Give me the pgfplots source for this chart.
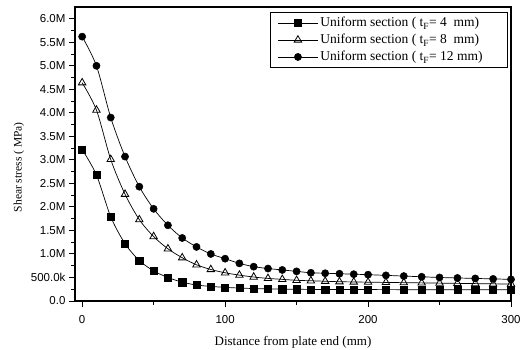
\documentclass[border=0pt]{standalone}
\usepackage{fontspec}
\setmainfont{Liberation Serif}
\setsansfont{Liberation Sans}
\usepackage{pgfplots}
\pgfplotsset{compat=1.18}
\begin{document}
\begin{tikzpicture}[x=1pt,y=1pt]
\useasboundingbox (-75,-48) rectangle (446,301);
\begin{axis}[
  at={(0,0)}, anchor=south west,
  scale only axis, width=436pt, height=294pt,
  xmin=-5, xmax=300, ymin=0, ymax=6.25,
  axis line style={line width=1.1pt},
  xtick={0,100,200,300}, xticklabels={0,100,200,300},
  ytick={0,0.5,...,6.0},
  yticklabels={0.0,500.0k,1.0M,1.5M,2.0M,2.5M,3.0M,3.5M,4.0M,4.5M,5.0M,5.5M,6.0M},
  minor x tick num=1, minor y tick num=1,
  tick align=outside, xtick pos=bottom, ytick pos=left,
  major tick length=6pt, minor tick length=3.5pt,
  every tick/.style={black, line width=1pt},
  ticklabel style={font=\sffamily\fontsize{11.5}{13}\selectfont},
  xticklabel style={yshift=-5pt},
  xlabel={Distance from plate end (mm)},
  ylabel={Shear stress ( MPa)},
  xlabel style={font=\fontsize{13}{15}\selectfont, yshift=-6pt},
  ylabel style={font=\fontsize{11.5}{13}\selectfont, at={(ticklabel cs:0.455)}},
  legend style={at={(0.993,0.983)}, anchor=north east, draw=black, line width=0.9pt,
    font=\fontsize{13.5}{16}\selectfont, row sep=2pt, inner xsep=7pt, inner ysep=3pt},
  legend cell align=left,
  legend image code/.code={%
    \draw[mark repeat=2,mark phase=2,#1] plot coordinates {(0pt,0pt)(20pt,0pt)(40pt,0pt)};},
  every axis plot/.append style={black, line width=0.7pt, smooth},
]
\addplot[mark=square*, mark size=3.6pt, mark options={solid, line width=0.5pt}] coordinates {
(0,3.22)(10,2.68)(20,1.79)(30,1.22)(40,0.86)(50,0.64)(60,0.50)(70,0.40)(80,0.34)(90,0.31)
(100,0.29)(110,0.275)(120,0.265)(130,0.257)(140,0.252)(150,0.249)(160,0.247)(170,0.246)(180,0.245)(190,0.244)
(200,0.243)(212.5,0.242)(225,0.241)(237.5,0.240)(250,0.240)(262.5,0.239)(275,0.239)(287.5,0.238)(300,0.238)};
\addlegendentry{Uniform section ( t\textsubscript{F}= 4\ \ mm)}
\addplot[mark=triangle, mark size=4.3pt, mark options={solid, fill=white, line width=0.8pt}] coordinates {
(0,4.64)(10,4.06)(20,3.01)(30,2.27)(40,1.73)(50,1.37)(60,1.11)(70,0.92)(80,0.77)(90,0.67)
(100,0.60)(110,0.55)(120,0.51)(130,0.48)(140,0.46)(150,0.44)(160,0.43)(170,0.42)(180,0.41)(190,0.405)
(200,0.40)(212.5,0.395)(225,0.39)(237.5,0.385)(250,0.38)(262.5,0.375)(275,0.37)(287.5,0.365)(300,0.36)};
\addlegendentry{Uniform section ( t\textsubscript{F}= 8\ \ mm)}
\addplot[mark=*, mark size=3.6pt, mark options={solid, line width=0.5pt}] coordinates {
(0,5.62)(10,5.00)(20,3.90)(30,3.07)(40,2.43)(50,1.96)(60,1.61)(70,1.34)(80,1.15)(90,1.00)
(100,0.90)(110,0.80)(120,0.73)(130,0.69)(140,0.66)(150,0.63)(160,0.60)(170,0.59)(180,0.58)(190,0.57)
(200,0.56)(212.5,0.545)(225,0.53)(237.5,0.515)(250,0.50)(262.5,0.49)(275,0.48)(287.5,0.47)(300,0.46)};
\addlegendentry{Uniform section ( t\textsubscript{F}= 12 mm)\hspace*{16pt}}
\end{axis}
\end{tikzpicture}
\end{document}
